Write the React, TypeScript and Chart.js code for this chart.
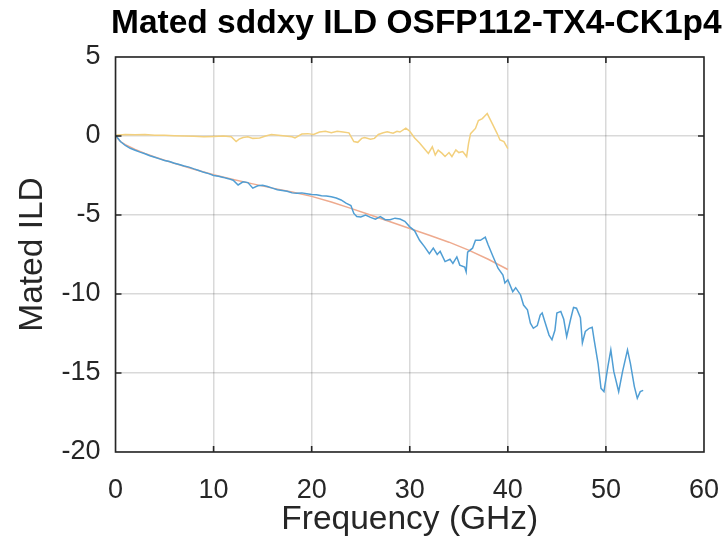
import React, { useEffect, useRef } from "react";
import { Chart, registerables } from "chart.js";

Chart.register(...registerables);

const TITLE = "Mated sddxy ILD OSFP112-TX4-CK1p4";
const X_LABEL = "Frequency (GHz)";
const Y_LABEL = "Mated ILD";

const X_MIN = 0;
const X_MAX = 60;
const X_STEP = 10;
const Y_MIN = -20;
const Y_MAX = 5;
const Y_STEP = 5;

// Measured mated insertion loss (blue trace)
const measuredFreq = [
  0, 0.5, 1, 1.5, 2, 2.5, 3, 3.5, 4, 4.5, 5, 5.5, 6, 6.5, 7, 7.5, 8, 8.5, 9, 9.5,
  10, 10.5, 11, 11.5, 12, 12.5, 13, 13.5, 14, 14.5, 15, 15.5, 16, 16.5, 17, 17.5,
  18, 18.5, 19, 19.5, 20, 20.5, 21, 21.5, 22, 22.5, 23, 23.5, 24, 24.3, 24.6, 25,
  25.5, 26, 26.5, 27, 27.5, 28, 28.5, 29, 29.5, 30, 30.5, 31, 31.5, 32, 32.4, 32.8,
  33.1, 33.6, 34.1, 34.4, 34.8, 35.1, 35.6, 35.75, 35.9, 36.4, 36.7, 37.2, 37.7, 38,
  38.5, 39, 39.5, 39.7, 40, 40.5, 40.8, 41.3, 41.6, 42, 42.3, 42.6, 43, 43.3, 43.5,
  43.8, 44.2, 44.5, 44.8, 45, 45.4, 45.7, 46, 46.4, 46.7, 47, 47.4, 47.6, 47.9, 48.3,
  48.6, 48.8, 49.2, 49.5, 49.8, 50.2, 50.5, 50.8, 51.3, 51.7, 52.2, 52.5, 52.9, 53.2,
  53.5, 53.8,
];
const measuredILD = [
  0.05, -0.35, -0.6, -0.78, -0.9, -1.02, -1.12, -1.25, -1.35, -1.45, -1.55, -1.62,
  -1.72, -1.8, -1.9, -1.97, -2.08, -2.18, -2.3, -2.38, -2.5, -2.55, -2.62, -2.7,
  -2.8, -3.1, -2.9, -2.95, -3.3, -3.15, -3.12, -3.2, -3.3, -3.4, -3.45, -3.5, -3.6,
  -3.62, -3.6, -3.65, -3.7, -3.72, -3.78, -3.8, -3.85, -3.92, -4.05, -4.25, -4.4,
  -4.9, -5.1, -5.12, -5.0, -5.15, -5.27, -5.1, -5.3, -5.3, -5.2, -5.25, -5.4, -5.75,
  -6.0, -6.6, -7.0, -7.45, -7.1, -7.5, -7.3, -7.95, -7.8, -8.06, -7.65, -8.17, -8.3,
  -8.6, -7.35, -7.1, -6.6, -6.6, -6.4, -6.9, -7.64, -8.37, -8.8, -9.3, -9.1, -9.85,
  -9.6, -10.06, -10.7, -11.0, -11.85, -12.17, -12.0, -11.33, -11.2, -11.8, -12.6,
  -12.9, -12.3, -11.2, -11.1, -11.6, -12.7, -11.6, -10.85, -10.9, -11.5, -13.1,
  -12.37, -12.17, -12.1, -12.9, -14.4, -15.97, -16.18, -14.6, -13.54, -14.9, -16.18,
  -14.9, -13.54, -14.4, -15.86, -16.6, -16.18, -16.1,
];

// Fitted insertion loss (orange trace)
const fitFreq = [0, 0.5, 1, 2, 3, 4, 5, 6, 8, 10, 12, 14, 16, 18, 20, 22, 24, 26, 28, 30, 32, 34, 36, 38, 40];
const fitILD = [
  0, -0.35, -0.55, -0.85, -1.1, -1.33, -1.53, -1.73, -2.1, -2.45, -2.75, -3.03, -3.3,
  -3.55, -3.82, -4.18, -4.58, -5.0, -5.43, -5.85, -6.28, -6.72, -7.22, -7.8, -8.45,
];

// Deviation of the measurement from the fit (yellow trace)
const deviationFreq = [
  0, 1, 2, 3, 4, 5, 6, 7, 8, 9, 10, 11, 11.8, 12.3, 12.6, 13, 13.5, 14, 14.7, 15.3,
  15.9, 16.6, 17.3, 18, 18.3, 19, 19.6, 20.2, 20.8, 21.4, 22, 22.6, 23.2, 23.8, 24.3,
  24.7, 25.1, 25.4, 26, 26.4, 26.8, 27.3, 27.7, 28, 28.3, 28.7, 29, 29.6, 30, 30.5,
  31, 31.6, 31.9, 32.3, 32.6, 32.9, 33.3, 33.6, 34, 34.3, 34.7, 35, 35.4, 35.8, 36,
  36.2, 36.7, 37, 37.4, 37.9, 38.4, 38.9, 39.2, 39.6, 40,
];
const deviationILD = [
  0.05, 0.1, 0.08, 0.1, 0.05, 0.05, 0.02, 0, -0.02, -0.05, -0.03, 0, -0.05, -0.35,
  -0.2, -0.1, -0.05, -0.15, -0.12, 0.0, 0.1, 0.05, 0.0, -0.05, -0.12, 0.12, 0.15, 0.1,
  0.25, 0.3, 0.2, 0.3, 0.25, 0.2, -0.35, -0.4, -0.15, -0.1, -0.2, -0.15, 0.1, 0.2,
  0.27, 0.22, 0.18, 0.3, 0.25, 0.5, 0.3, -0.12, -0.45, -0.88, -1.1, -0.68, -1.2, -0.9,
  -1.1, -1.3, -1.05, -1.3, -0.88, -1.05, -0.98, -1.3, -0.45, 0.15, 0.48, 0.98, 1.1,
  1.42, 0.8, 0.17, -0.25, -0.36, -0.8,
];

const BLUE = "rgb(80,158,212)";
const ORANGE = "rgb(238,170,142)";
const YELLOW = "rgb(243,208,125)";
const AXIS_COLOR = "#262626";
const GRID_COLOR = "rgba(0,0,0,0.15)";
const FONT_FAMILY = "'Liberation Sans', Arial, Helvetica, sans-serif";

const toPoints = (xs: number[], ys: number[]) => xs.map((x, i) => ({ x, y: ys[i] }));

// Draws the closed axes box, inward tick marks and the bold heading.
const framePlugin = {
  id: "frame",
  afterDatasetsDraw(chart: any) {
    const { ctx, chartArea, scales } = chart;
    const { left, right, top, bottom } = chartArea;
    ctx.save();
    ctx.strokeStyle = AXIS_COLOR;
    ctx.lineWidth = 1.6;
    ctx.strokeRect(left, top, right - left, bottom - top);
    const tl = 6;
    ctx.beginPath();
    for (let v = X_MIN + X_STEP; v < X_MAX; v += X_STEP) {
      const px = scales.x.getPixelForValue(v);
      ctx.moveTo(px, bottom);
      ctx.lineTo(px, bottom - tl);
      ctx.moveTo(px, top);
      ctx.lineTo(px, top + tl);
    }
    for (let v = Y_MIN + Y_STEP; v < Y_MAX; v += Y_STEP) {
      const py = scales.y.getPixelForValue(v);
      ctx.moveTo(left, py);
      ctx.lineTo(left + tl, py);
      ctx.moveTo(right, py);
      ctx.lineTo(right - tl, py);
    }
    ctx.stroke();

    ctx.fillStyle = "#000";
    ctx.font = `bold 33.5px ${FONT_FAMILY}`;
    ctx.textAlign = "left";
    ctx.textBaseline = "alphabetic";
    ctx.fillText(TITLE, 111, 33);
    ctx.restore();
  },
};

export default function App() {
  const canvasRef = useRef<HTMLCanvasElement | null>(null);

  useEffect(() => {
    const canvas = canvasRef.current;
    if (!canvas) return;
    const tickFont = { family: FONT_FAMILY, size: 27 };
    const labelFont = { family: FONT_FAMILY, size: 33.5 };
    const chart = new Chart(canvas, {
      type: "scatter",
      data: {
        datasets: [
          {
            label: "Measured",
            data: toPoints(measuredFreq, measuredILD),
            showLine: true,
            borderColor: BLUE,
            borderWidth: 1.5,
            pointRadius: 0,
          },
          {
            label: "Fit",
            data: toPoints(fitFreq, fitILD),
            showLine: true,
            borderColor: ORANGE,
            borderWidth: 1.5,
            pointRadius: 0,
          },
          {
            label: "ILD",
            data: toPoints(deviationFreq, deviationILD),
            showLine: true,
            borderColor: YELLOW,
            borderWidth: 1.5,
            pointRadius: 0,
          },
        ],
      },
      options: {
        animation: false,
        responsive: false,
        maintainAspectRatio: false,
        layout: { padding: { left: 0, right: 21, top: 57, bottom: 0 } },
        plugins: {
          legend: { display: false },
          title: { display: false },
          tooltip: { enabled: false },
        },
        scales: {
          x: {
            type: "linear",
            min: X_MIN,
            max: X_MAX,
            afterFit: (s: any) => {
              s.height = 93;
              s.paddingLeft = 0;
              s.paddingRight = 0;
            },
            ticks: {
              stepSize: X_STEP,
              font: tickFont,
              color: AXIS_COLOR,
              padding: 22,
              maxRotation: 0,
            },
            grid: { color: GRID_COLOR, lineWidth: 1.5, drawTicks: false },
            border: { display: false },
            title: {
              display: true,
              text: X_LABEL,
              font: labelFont,
              color: AXIS_COLOR,
              padding: { top: 0, bottom: 5 },
            },
          },
          y: {
            type: "linear",
            min: Y_MIN,
            max: Y_MAX,
            afterFit: (s: any) => {
              s.width = 115.5;
              s.paddingTop = 0;
              s.paddingBottom = 0;
            },
            ticks: {
              stepSize: Y_STEP,
              font: tickFont,
              color: AXIS_COLOR,
              padding: 15,
            },
            grid: { color: GRID_COLOR, lineWidth: 1.5, drawTicks: false },
            border: { display: false },
            title: {
              display: true,
              text: Y_LABEL,
              font: labelFont,
              color: AXIS_COLOR,
              padding: { top: 13, bottom: 0 },
            },
          },
        },
      },
      plugins: [framePlugin],
    });
    return () => chart.destroy();
  }, []);

  return (
    <div style={{ position: "absolute", left: 0, top: 0, width: 725, height: 545, background: "#fff" }}>
      <canvas ref={canvasRef} width={725} height={545} style={{ display: "block" }} />
    </div>
  );
}
